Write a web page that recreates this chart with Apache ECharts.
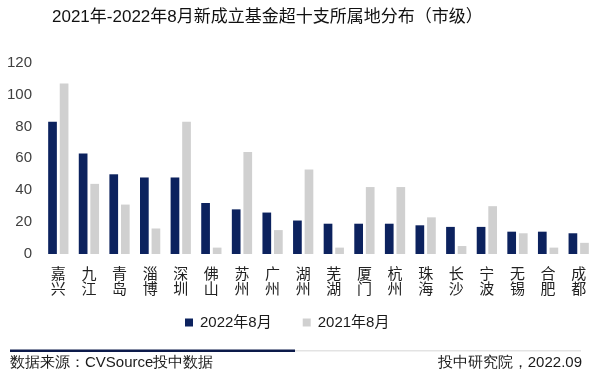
<!DOCTYPE html>
<html><head><meta charset="utf-8">
<script src="https://cdn.jsdelivr.net/npm/echarts@6/dist/echarts.min.js"></script>
<style>html,body{margin:0;padding:0;background:#fff}#c{width:600px;height:376px}</style>
</head><body><div id="c"></div>
<script>
const categories = ['嘉兴','九江','青岛','淄博','深圳','佛山','苏州','广州','湖州','芜湖','厦门','杭州','珠海','长沙','宁波','无锡','合肥','成都'];
const seriesNames = ['2022年8月','2021年8月'];
const values2022 = [83,63,50,48,48,32,28,26,21,19,19,19,18,17,17,14,14,13];
const values2021 = [107,44,31,16,83,4,64,15,53,4,42,42,23,5,30,13,4,7];
const yTicks = [0,20,40,60,80,100,120];
const titleText = '2021年-2022年8月新成立基金超十支所属地分布（市级）';
const sourceText = '数据来源：CVSource投中数据';
const creditText = '投中研究院，2022.09';

const FONT = '"Liberation Sans", Arial, "Noto Sans CJK SC", sans-serif';
const NAVY = '#0c225e', GRAY = '#d0d0d0';
const chart = echarts.init(document.getElementById('c'), null, {renderer:'canvas'});
chart.setOption({
  animation:false,
  backgroundColor:'#fff',
  textStyle:{fontFamily:FONT},
  title:{text:titleText,left:47,top:4,textStyle:{fontSize:17,fontWeight:'normal',color:'#111',fontFamily:FONT}},
  legend:{data:seriesNames,left:180,top:310,icon:'rect',itemWidth:8,itemHeight:8,itemGap:31,
    textStyle:{fontSize:15,color:'#1a1a1a',fontFamily:FONT,padding:[0,0,0,2]}},
  grid:{left:43,right:6,top:62.7,bottom:122,containLabel:false},
  xAxis:{type:'category',data:categories,axisLine:{show:false},axisTick:{show:false},
    axisLabel:{interval:0,margin:13,fontSize:15,lineHeight:15,color:'#222',fontFamily:FONT,
      formatter:v=>v.split('').join('\n')}},
  yAxis:{type:'value',min:yTicks[0],max:yTicks[yTicks.length-1],interval:yTicks[1]-yTicks[0],
    axisLine:{show:false},axisTick:{show:false},splitLine:{show:false},
    axisLabel:{fontSize:15,color:'#404040',margin:11,fontFamily:FONT}},
  series:[
    {name:seriesNames[0],type:'bar',data:values2022,barWidth:8.7,barGap:'33%',itemStyle:{color:NAVY}},
    {name:seriesNames[1],type:'bar',data:values2021,barWidth:8.7,barGap:'33%',itemStyle:{color:GRAY}}
  ],
  graphic:[
    {type:'rect',shape:{x:10,y:349.5,width:285,height:2.5},style:{fill:'#0c1a4a'}},
    {type:'rect',shape:{x:295,y:350,width:286,height:1.5},style:{fill:'#e3e3e3'}},
    {type:'text',left:10,top:355,style:{text:sourceText,fontSize:15,fill:'#1a1a1a',font:'15px '+FONT}},
    {type:'text',right:18,top:355,style:{text:creditText,fontSize:15,fill:'#1a1a1a',font:'15px '+FONT}}
  ]
});
</script></body></html>
